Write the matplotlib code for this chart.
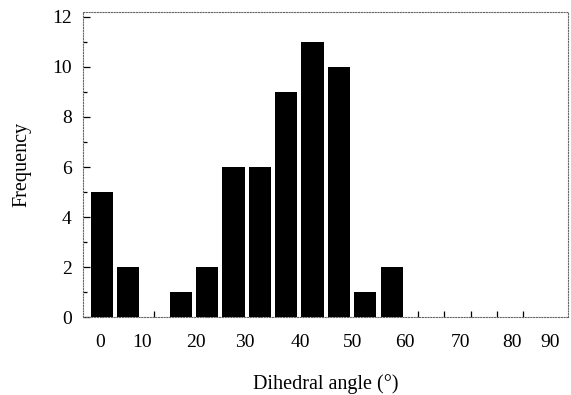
import matplotlib
matplotlib.use('Agg')
from matplotlib import pyplot as plt

# Data
angles = [0, 5, 10, 15, 20, 25, 30, 35, 40, 45, 50, 55, 60, 65, 70, 75, 80, 85]
freq = [5, 2, 0, 1, 2, 6, 6, 9, 11, 10, 1, 2, 0, 0, 0, 0, 0, 0]
tick_labels = ['0', '10', '20', '30', '40', '50', '60', '70', '80', '90']
# where the scanned labels sit, in degrees
tick_pos = [-0.4, 7.6, 17.9, 27.2, 37.6, 47.5, 57.5, 68.0, 77.9, 85.0]

plt.rcParams['font.family'] = ['Liberation Serif', 'DejaVu Serif']

fig = plt.figure(figsize=(5.71, 3.95), dpi=100)
ax = fig.add_axes([0.145, 0.197, 0.85, 0.773])

ax.bar(angles, freq, width=4.2, color='black', zorder=3)

ax.set_xlim(-3.6, 88.5)
ax.set_ylim(0, 12.2)

ax.set_xticks(tick_pos)
ax.set_xticklabels(tick_labels)
ax.set_xticks(angles, minor=True)
ax.tick_params(axis='x', which='major', length=0, pad=12, labelsize=14)
ax.tick_params(axis='x', which='minor', direction='in', length=4, width=0.9)

ax.set_yticks(range(0, 13, 2))
ax.set_yticks(range(1, 12, 2), minor=True)
ax.tick_params(axis='y', which='major', direction='in', length=5, width=0.9, labelsize=14, pad=8)
ax.tick_params(axis='y', which='minor', direction='in', length=3, width=0.9)

for side in ['top', 'right', 'left', 'bottom']:
    ax.spines[side].set_linestyle((0, (1, 1.5)))
    ax.spines[side].set_linewidth(0.8)
    ax.spines[side].set_color('#666666')

ax.set_xlabel('Dihedral angle (°)', fontsize=14.5, labelpad=17)
ax.set_ylabel('Frequency', fontsize=14.5, labelpad=15)

fig.savefig('out.png', dpi=100)
